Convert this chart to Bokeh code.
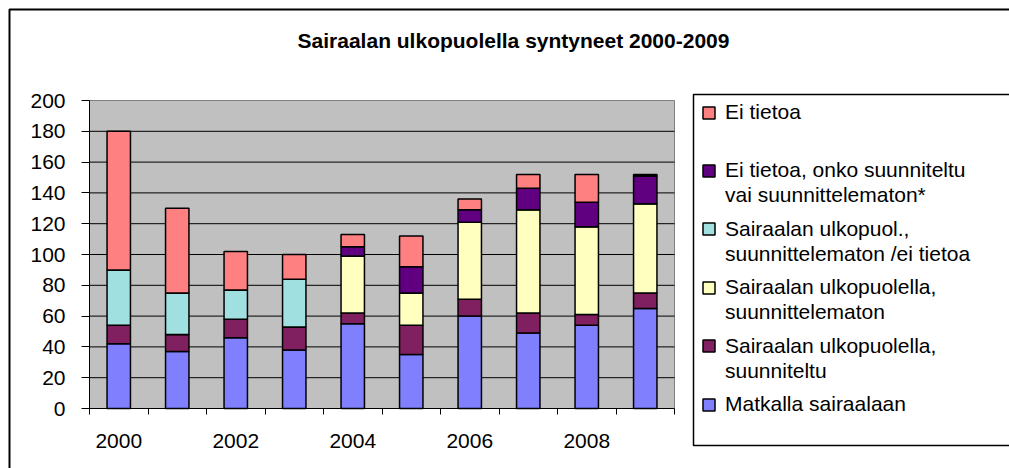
from bokeh.plotting import figure
from bokeh.models import (Range1d, FixedTicker, Legend, LegendItem, Label,
                          BoxAnnotation, ColumnDataSource, LinearAxis)
from bokeh.embed import file_html
from bokeh.resources import INLINE

# ---- data ----
years = [2000, 2001, 2002, 2003, 2004, 2005, 2006, 2007, 2008, 2009]
matkalla = [42, 37, 46, 38, 55, 35, 60, 49, 54, 65]
suunniteltu = [12, 11, 12, 15, 7, 19, 11, 13, 7, 10]
suunnittelematon = [0, 0, 0, 0, 37, 21, 50, 67, 57, 58]
ulkopuol_ei_tietoa = [36, 27, 19, 31, 0, 0, 0, 0, 0, 0]
ei_tietoa_onko = [0, 0, 0, 0, 6, 17, 8, 14, 16, 18]
ei_tietoa = [90, 55, 25, 16, 8, 20, 7, 9, 18, 1]

series_keys = ["matkalla", "suunniteltu", "suunnittelematon",
               "ulkopuol_ei_tietoa", "ei_tietoa_onko", "ei_tietoa"]
series_colors = ["#8080FF", "#802060", "#FFFFC0", "#A0E0E0", "#600080", "#FF8080"]
series_labels = [
    ["Matkalla sairaalaan"],
    ["Sairaalan ulkopuolella,", "suunniteltu"],
    ["Sairaalan ulkopuolella,", "suunnittelematon"],
    ["Sairaalan ulkopuol.,", "suunnittelematon /ei tietoa"],
    ["Ei tietoa, onko suunniteltu", "vai suunnittelematon*"],
    ["Ei tietoa"],
]
y_ticks = [0, 20, 40, 60, 80, 100, 120, 140, 160, 180, 200]
x_label_years = [2000, 2002, 2004, 2006, 2008]
title_text = "Sairaalan ulkopuolella syntyneet 2000-2009"

FONT = "Liberation Sans"

# ---- layout constants (pixels in the canvas) ----
W, H = 1009, 468
PLOT_L, PLOT_R, PLOT_T, PLOT_B = 89, 674, 100, 408

x_lo = years[0] - 0.5
x_hi = years[-1] + 0.5
y_lo = y_ticks[0]
y_hi = y_ticks[-1]
ppx = (PLOT_R - PLOT_L) / (x_hi - x_lo)
ppy = (PLOT_B - PLOT_T) / (y_hi - y_lo)
x_range = Range1d(x_lo - PLOT_L / ppx, x_lo + (W - PLOT_L) / ppx)
y_range = Range1d(y_lo - (H - PLOT_B) / ppy, y_hi + PLOT_T / ppy)

source = ColumnDataSource(dict(
    year=years, matkalla=matkalla, suunniteltu=suunniteltu,
    suunnittelematon=suunnittelematon, ulkopuol_ei_tietoa=ulkopuol_ei_tietoa,
    ei_tietoa_onko=ei_tietoa_onko, ei_tietoa=ei_tietoa))

p = figure(width=W, height=H, x_range=x_range, y_range=y_range,
           output_backend="svg", toolbar_location=None,
           x_axis_location=None, y_axis_location=None,
           min_border=0, background_fill_color="white",
           border_fill_color="white", outline_line_color=None)
p.xgrid.visible = False
p.ygrid.visible = False

# plot area background
p.quad(left=[x_lo], right=[x_hi], bottom=[y_lo], top=[y_hi],
       fill_color="#C0C0C0", line_color="#808080", line_width=1)
# horizontal gridlines
inner = y_ticks[1:-1]
p.segment(x0=[x_lo] * len(inner), x1=[x_hi] * len(inner), y0=inner, y1=inner,
          line_color="black", line_width=1)

renderers = p.vbar_stack(series_keys, x="year", width=0.4, source=source,
                         fill_color=series_colors, line_color="black",
                         line_width=1.5)
dummy = p.vbar(x=[], top=[], width=0.4, fill_alpha=0, line_alpha=0)

# axes
yaxis = LinearAxis(fixed_location=x_lo, bounds=(y_lo, y_hi),
                   ticker=FixedTicker(ticks=y_ticks, minor_ticks=[]))
yaxis.major_label_text_font_size = "21px"
yaxis.major_label_text_font = FONT
yaxis.major_label_text_color = "black"
yaxis.major_tick_out = 8
yaxis.major_tick_in = 0
yaxis.major_label_standoff = 16
yaxis.axis_line_color = "black"
yaxis.major_tick_line_color = "black"
p.add_layout(yaxis, "left")

boundaries = [y - 0.5 for y in years] + [years[-1] + 0.5]
xaxis = LinearAxis(fixed_location=y_lo, bounds=(x_lo, x_hi),
                   ticker=FixedTicker(ticks=x_label_years, minor_ticks=boundaries))
xaxis.major_label_text_font_size = "21px"
xaxis.major_label_text_font = FONT
xaxis.major_label_text_color = "black"
xaxis.major_tick_out = 0
xaxis.major_tick_in = 0
xaxis.minor_tick_out = 6
xaxis.minor_tick_in = 0
xaxis.minor_tick_line_color = "black"
xaxis.major_label_standoff = 19
xaxis.axis_line_color = "black"
p.add_layout(xaxis, "below")

# title
p.add_layout(Label(x=513, y=H - 39.5, x_units="screen", y_units="screen",
                   text=title_text, text_align="center", text_baseline="middle",
                   text_font_size="21px", text_font_style="bold", text_font=FONT,
                   text_color="black"))

# outer chart border
p.add_layout(BoxAnnotation(left=9, right=3000, top=H - 9, bottom=-500,
                           left_units="screen", right_units="screen",
                           top_units="screen", bottom_units="screen",
                           fill_alpha=0, line_color="black", line_alpha=1,
                           line_width=2))
# legend border
p.add_layout(BoxAnnotation(left=693, right=3000, top=H - 94, bottom=H - 445,
                           left_units="screen", right_units="screen",
                           top_units="screen", bottom_units="screen",
                           fill_alpha=0, line_color="black", line_alpha=1,
                           line_width=1.5))

# legend entries, top to bottom
row_h = 24
gap = 1
first_center = 112
entry_pitch = 58.4
order = list(range(len(series_keys)))[::-1]
for k, idx in enumerate(order):
    lines = series_labels[idx]
    items = [LegendItem(label=lines[0], renderers=[renderers[idx]])]
    for extra in lines[1:]:
        items.append(LegendItem(label=extra, renderers=[dummy]))
    n = len(lines)
    top_page = first_center + k * entry_pitch - row_h / 2
    height = n * row_h + (n - 1) * gap
    leg = Legend(items=items, location=(701, H - (top_page + height)),
                 padding=0, margin=0, spacing=gap,
                 glyph_width=15, glyph_height=15, label_height=row_h,
                 label_standoff=9, label_text_font_size="21px",
                 label_text_font=FONT, label_text_color="black",
                 border_line_alpha=0, background_fill_alpha=0)
    p.add_layout(leg)

open("out.html", "w").write(file_html(p, INLINE))
